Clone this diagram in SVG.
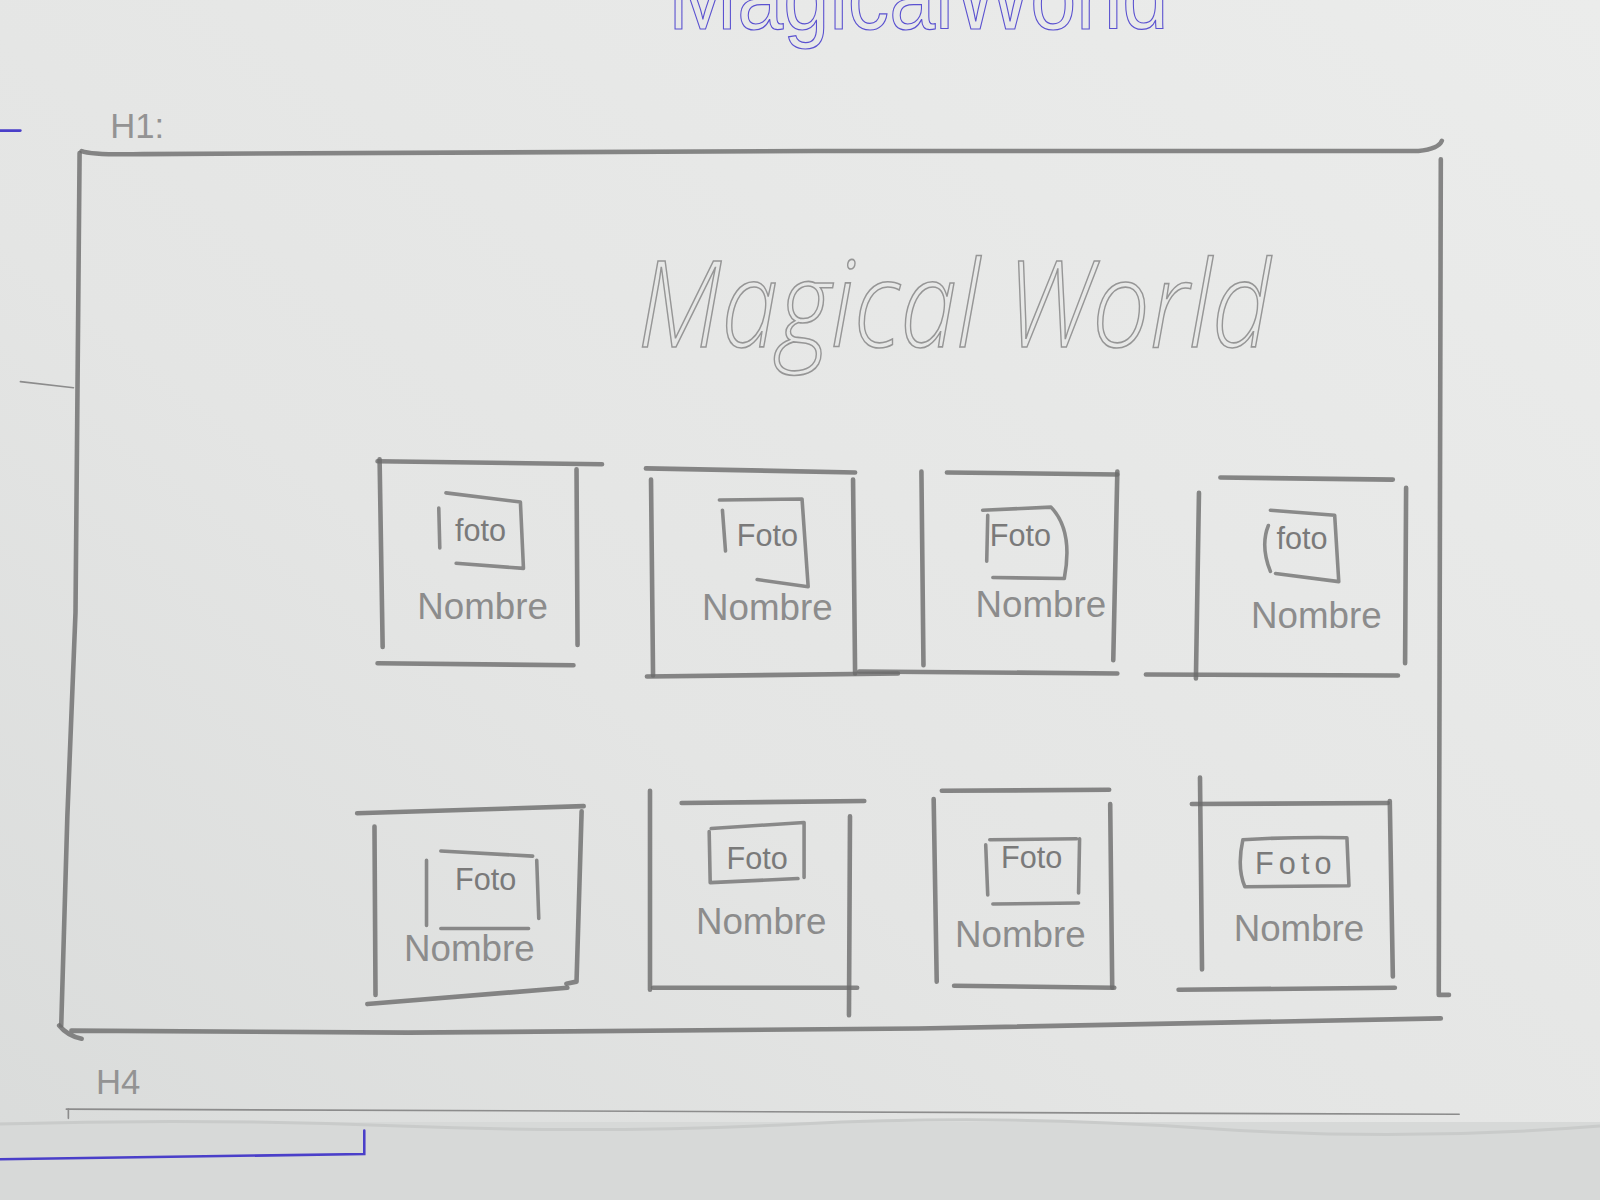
<svg xmlns="http://www.w3.org/2000/svg" width="1600" height="1200" viewBox="0 0 1600 1200">
  <defs>
    <linearGradient id="paper" x1="1" y1="0" x2="0" y2="1">
      <stop offset="0" stop-color="#ebeceb"/>
      <stop offset="0.6" stop-color="#e4e5e4"/>
      <stop offset="1" stop-color="#d9dbda"/>
    </linearGradient>
    <style>
      .pen { fill: none; stroke: #6c6c6c; stroke-width: 4.5; stroke-linecap: round; stroke-linejoin: round; opacity: 0.8; }
      .box { fill: none; stroke: #727272; stroke-width: 3.5; stroke-linecap: round; stroke-linejoin: round; opacity: 0.8; }
      .faint { fill: none; stroke: #8c8c8c; stroke-width: 1.6; stroke-linecap: round; }
      .ink { fill: none; stroke: #4a3fc9; stroke-width: 2.5; stroke-linecap: round; }
      .foto { font-family: "Liberation Sans", Arial, sans-serif; font-size: 30px; fill: #7a7a7a; text-anchor: middle; }
      .nombre { font-family: "Liberation Sans", Arial, sans-serif; font-size: 36px; fill: #8c8c8c; text-anchor: middle; }
      .label { font-family: "Liberation Sans", Arial, sans-serif; font-size: 34px; fill: #939393; }
    </style>
  </defs>

  <!-- paper -->
  <rect x="0" y="0" width="1600" height="1200" fill="url(#paper)"/>
  <rect x="0" y="1122" width="1600" height="78" fill="#d7d9d8"/>
  <path d="M0 1124 Q200 1118 400 1126 T800 1124 T1200 1128 T1600 1126" fill="none" stroke="#c9cbca" stroke-width="3"/>

  <g transform="scale(1.0204)">
    <!-- header title in ink, running off the top edge of the sheet -->
    <text x="900" y="28" font-family="'Liberation Sans Narrow', 'Liberation Sans', sans-serif" font-size="92" textLength="490" lengthAdjust="spacingAndGlyphs" text-anchor="middle" fill="none" stroke="#5b52d0" stroke-width="1.2">MagicalWorld</text>

    <!-- ink marks on the margins -->
    <path class="ink" d="M0 128 L20 128"/>
    <path class="ink" d="M0 1136 L357 1131 L357 1108"/>

    <!-- section labels -->
    <text class="label" x="108" y="135" font-weight="300">H1:</text>
    <text class="label" x="94" y="1072" font-size="28">H4</text>
    <path class="faint" d="M65 1087 L1430 1092"/>
    <path class="faint" d="M67 1087 L67 1096"/>
    <path class="faint" d="M20 374 L72 380"/>

    <!-- main frame -->
    <g id="frame">
      <path class="pen" d="M80 148 Q90 152 140 151 L800 148 L1390 148 Q1410 146 1413 138"/>
      <path class="pen" d="M78 150 L74 600 L66 800 L60 1005"/>
      <path class="pen" d="M1412 156 L1410 975 L1420 975"/>
      <path class="pen" d="M58 1005 Q66 1015 80 1018 M70 1010 L400 1012 L900 1008 L1412 998"/>
    </g>

    <!-- title -->
    <text x="935" y="340" font-family="'Open Sans', 'Liberation Sans', sans-serif" font-style="italic" font-weight="300" font-size="118" fill="none" stroke="#969696" stroke-width="1.6" text-anchor="middle" textLength="620" lengthAdjust="spacingAndGlyphs">Magical World</text>

    <!-- row 1 -->
    <g id="card-1">
      <path class="pen" d="M370 452 L590 455"/>
      <path class="pen" d="M372 450 L375 634"/>
      <path class="pen" d="M565 460 L566 632"/>
      <path class="pen" d="M370 650 L562 652"/>
      <path class="box" d="M437 483 L510 492 L513 557 L447 552 M430 498 L431 537"/>
      <text class="foto" x="471" y="530">foto</text>
      <text class="nombre" x="473" y="607">Nombre</text>
    </g>

    <g id="card-2">
      <path class="pen" d="M633 459 L838 463"/>
      <path class="pen" d="M638 470 L640 662"/>
      <path class="pen" d="M836 470 L838 660"/>
      <path class="pen" d="M634 663 L880 660"/>
      <path class="box" d="M705 490 L786 489 L792 575 L742 568 M708 500 L711 540"/>
      <text class="foto" x="752" y="535">Foto</text>
      <text class="nombre" x="752" y="608">Nombre</text>
    </g>

    <g id="card-3">
      <path class="pen" d="M903 462 L905 652"/>
      <path class="pen" d="M928 463 L1095 465"/>
      <path class="pen" d="M1095 462 L1091 647"/>
      <path class="pen" d="M842 658 L1095 660"/>
      <path class="box" d="M963 500 L1030 497 Q1052 520 1043 567 L973 566 M968 505 L967 550"/>
      <text class="foto" x="1000" y="535">Foto</text>
      <text class="nombre" x="1020" y="605">Nombre</text>
    </g>

    <g id="card-4">
      <path class="pen" d="M1196 468 L1365 470"/>
      <path class="pen" d="M1175 483 L1172 665"/>
      <path class="pen" d="M1378 478 L1377 650"/>
      <path class="pen" d="M1123 661 L1370 662"/>
      <path class="box" d="M1245 500 L1308 505 L1312 570 L1250 562 M1243 515 Q1235 535 1245 560"/>
      <text class="foto" x="1276" y="538">foto</text>
      <text class="nombre" x="1290" y="615">Nombre</text>
    </g>

    <!-- row 2 -->
    <g id="card-5">
      <path class="pen" d="M350 797 L572 790"/>
      <path class="pen" d="M367 810 L368 975"/>
      <path class="pen" d="M570 795 L565 962 L555 964"/>
      <path class="pen" d="M360 984 L556 968"/>
      <path class="box" d="M432 834 L522 839 M418 843 L418 907 M526 843 L528 900 M432 910 L518 910"/>
      <text class="foto" x="476" y="872" font-size="34">Foto</text>
      <text class="nombre" x="460" y="942">Nombre</text>
    </g>

    <g id="card-6">
      <path class="pen" d="M637 775 L637 970"/>
      <path class="pen" d="M668 787 L847 785"/>
      <path class="pen" d="M833 800 L832 995"/>
      <path class="pen" d="M640 968 L840 968"/>
      <path class="box" d="M697 812 L788 806 L788 860 M695 815 L696 865 L782 861"/>
      <text class="foto" x="742" y="852">Foto</text>
      <text class="nombre" x="746" y="915">Nombre</text>
    </g>

    <g id="card-7">
      <path class="pen" d="M923 775 L1087 774"/>
      <path class="pen" d="M915 783 L918 962"/>
      <path class="pen" d="M1088 788 L1090 968"/>
      <path class="pen" d="M935 966 L1092 968"/>
      <path class="box" d="M970 823 L1055 822 M1058 822 L1057 875 M966 828 L968 877 M973 886 L1057 885"/>
      <text class="foto" x="1011" y="851">Foto</text>
      <text class="nombre" x="1000" y="928">Nombre</text>
    </g>

    <g id="card-8">
      <path class="pen" d="M1168 788 L1360 787"/>
      <path class="pen" d="M1176 762 L1178 950"/>
      <path class="pen" d="M1362 785 L1365 957"/>
      <path class="pen" d="M1155 970 L1367 968"/>
      <path class="box" d="M1218 823 Q1265 820 1320 821 L1322 868 L1220 869 Q1212 850 1218 823"/>
      <text class="foto" x="1270" y="857" letter-spacing="5">Foto</text>
      <text class="nombre" x="1273" y="922">Nombre</text>
    </g>
  </g>
</svg>
